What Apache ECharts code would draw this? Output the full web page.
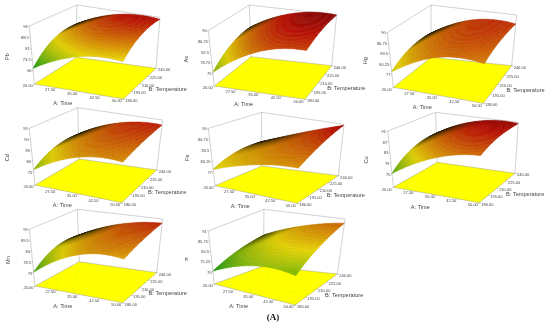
<!DOCTYPE html>
<html><head><meta charset="utf-8">
<style>html,body{margin:0;padding:0;background:#fff}#c{width:550px;height:327px}</style>
<script src="https://cdn.jsdelivr.net/npm/echarts@6/dist/echarts.min.js"></script>
</head><body><div id="c"></div>
<script>
// Axis ticks
const timeTicks=[20,27.5,35,42.5,50];
const tempTicks=[180,195,210,225,240];
const responseNames=['Pb','As','Hg','Cd','Fe','Cu','Mn','\u03c0'];
const zPb=[66,73.5,81,88.5,96];
const zAs=[75,78.75,82.5,86.25,90];
const zHg=[77,80.25,83.5,86.75,90];
const zCd=[75,80,85,90,95];
const zFe=[77,80.25,83.5,86.75,90];
const zCu=[75,79,83,87,91];
const zMn=[73,78.5,84,89.5,95];
const zPi=[70,75.25,80.5,85.75,91];
// Responses: rows = temperature ticks, columns = time ticks
const valPb=[[67.5,74.7,79.2,80.9,79.8],[74.8,80.8,84.6,86.2,85.6],[79.7,85.2,88.8,90.4,90.0],[82.0,88.0,91.8,93.5,93.0],[81.9,89.1,93.6,95.4,94.5]];
const valAs=[[75.3,80.5,84.0,85.7,85.7],[78.1,82.6,85.7,87.2,87.2],[80.1,84.2,87.0,88.4,88.5],[81.3,85.3,88.0,89.4,89.4],[81.6,85.9,88.7,90.1,90.0]];
const valHg=[[77.9,81.6,83.8,84.3,83.4],[79.8,83.0,84.9,85.5,84.8],[80.9,84.0,85.8,86.5,85.8],[81.3,84.5,86.4,87.1,86.6],[80.9,84.5,86.8,87.6,87.0]];
const valCd=[[76.0,81.3,84.6,85.9,85.2],[79.2,83.5,86.3,87.4,87.0],[81.2,85.2,87.8,89.0,88.8],[82.0,86.3,89.2,90.6,90.6],[81.6,86.9,90.4,92.3,92.4]];
const valFe=[[77.9,79.9,81.3,82.1,82.2],[79.5,81.1,82.3,83.3,84.1],[80.5,82.0,83.4,84.7,86.0],[80.9,82.7,84.4,86.1,87.9],[80.8,83.1,85.4,87.6,89.7]];
const valCu=[[75.3,79.8,83.0,84.9,85.4],[78.7,82.6,85.3,86.9,87.3],[80.9,84.6,87.2,88.5,88.8],[82.1,85.9,88.5,89.8,89.8],[82.2,86.6,89.4,90.7,90.5]];
const valMn=[[73.4,80.4,84.7,86.2,85.1],[77.6,82.7,86.0,87.5,87.1],[80.3,84.4,87.3,88.8,89.1],[81.3,85.5,88.5,90.3,91.0],[80.7,85.9,89.6,91.9,92.8]];
const valPi=[[70.4,74.5,76.7,77.0,75.5],[73.4,77.0,79.2,80.0,79.3],[75.8,79.1,81.4,82.7,82.8],[77.5,80.9,83.5,85.2,86.0],[78.6,82.4,85.3,87.5,88.9]];
const Z=[zPb,zAs,zHg,zCd,zFe,zCu,zMn,zPi];
const V=[valPb,valAs,valHg,valCd,valFe,valCu,valMn,valPi];

const layout=[
 {o:[0,0],fl:[[103,252],[370,297],[468,205],[230,172]],tp:[[88,78],[368,105],[480,52],[230,15]],ramp:[0,1.05],cont:[78],name:[22,170]},
 {o:[180,0],fl:[[103,258],[375,298],[455,197],[213,170]],tp:[[85,92],[380,110],[470,45],[208,15]],ramp:[.25,1.12],cont:[],name:[20,178]},
 {o:[360,0],fl:[[100,262],[370,310],[455,197],[213,172]],tp:[[82,98],[375,115],[470,45],[213,15]],ramp:[.38,1.06],cont:[],name:[17,182]},
 {o:[0,105],fl:[[105,240],[365,293],[470,195],[238,162]],tp:[[88,70],[370,98],[488,45],[233,8]],ramp:[.25,1.08],cont:[],name:[22,158]},
 {o:[180,105],fl:[[105,242],[352,295],[475,212],[245,183]],tp:[[85,70],[357,99],[492,58],[245,22]],ramp:[.4,1.08],cont:[],name:[22,158]},
 {o:[360,105],fl:[[100,247],[358,293],[465,205],[232,172]],tp:[[83,78],[362,100],[475,52],[227,22]],ramp:[.15,1.1],cont:[79],name:[20,165]},
 {o:[0,205],fl:[[105,243],[368,293],[470,203],[238,170]],tp:[[88,73],[373,93],[488,42],[232,13]],ramp:[.1,1.05],cont:[77.5,80.5,84],name:[25,165]},
 {o:[180,205],fl:[[103,237],[345,300],[472,207],[250,183]],tp:[[85,78],[350,97],[495,42],[252,13]],ramp:[.03,.88],cont:[74,77,80.5],name:[18,162]}
];
const BASE=.23, N=30;
function bil(c,u,v){const k=[(1-u)*(1-v),u*(1-v),u*v,(1-u)*v];
  return [0,1].map(i=>c[0][i]*k[0]+c[1][i]*k[1]+c[2][i]*k[2]+c[3][i]*k[3]);}
function lag(nodes,vals,x){let s=0;const n=vals.length;for(let i=0;i<n;i++){let p=vals[i];
  for(let j=0;j<n;j++)if(j!==i)p*=(x-nodes[j])/(nodes[i]-nodes[j]);s+=p;}return s;}
function surf(tab,u,v){const ns=tab.map((_,i)=>i/(tab.length-1));
  return lag(ns,tab.map(r=>lag(ns,r,u)),v);}
function mix(s,shade){s=Math.max(0,Math.min(1.15,s));
  const G=[0,155,20],Y=[245,225,0],R=[200,15,0],D=[140,0,0];let a,b,t;
  if(s<.5){a=G;b=Y;t=s/.5}else if(s<1){a=Y;b=R;t=(s-.5)/.5}else{a=R;b=D;t=(s-1)/.15}
  return 'rgb('+[0,1,2].map(i=>Math.round((a[i]+(b[i]-a[i])*t)*shade)).join(',')+')';}
function area(q){let s=0;for(let i=0;i<4;i++){const a=q[i],b=q[(i+1)%4];s+=a[0]*b[1]-a[1]*b[0];}return Math.abs(s)/2;}

function panelItem(pi){return function(params,api){
  const L=layout[pi];
  const P=p=>api.coord([L.o[0]+p[0]/3,L.o[1]+p[1]/3]);
  const C=L.fl.map(p=>[L.o[0]+p[0]/3,L.o[1]+p[1]/3]);
  const T=L.tp.map(p=>[L.o[0]+p[0]/3,L.o[1]+p[1]/3]);
  const co=p=>api.coord(p);
  const zs=Z[pi],z0=zs[0],z1=zs[zs.length-1];
  const base=C.map((p,i)=>[p[0]+(T[i][0]-p[0])*BASE,p[1]+(T[i][1]-p[1])*BASE]);
  const proj=(u,v,f)=>{const b=bil(base,u,v),t=bil(T,u,v);return co([b[0]+(t[0]-b[0])*f,b[1]+(t[1]-b[1])*f]);};
  const kids=[];
  const line=(a,b,st)=>kids.push({type:'line',silent:true,shape:{x1:a[0],y1:a[1],x2:b[0],y2:b[1]},style:st});
  const gray={stroke:'#b4b4b4',lineWidth:.6,fill:null};
  const txt=(s,p,size,align,rot)=>kids.push({type:'text',silent:true,x:p[0],y:p[1],rotation:rot||0,
     style:{text:s,x:0,y:0,fontSize:size,fontFamily:'"Liberation Sans",Arial,sans-serif',fill:'#444',align:align,verticalAlign:'middle'}});
  line(co(T[0]),co(T[3]),gray);line(co(T[3]),co(T[2]),gray);
  line(co(T[0]),co(C[0]),gray);line(co(T[3]),co(C[3]),gray);line(co(T[2]),co(C[2]),gray);
  kids.push({type:'polygon',silent:true,shape:{points:C.map(co)},style:{fill:'#ffff00',stroke:'#888',lineWidth:.4}});
  const tab=V[pi];
  L.cont.forEach(lev=>{
    const M=40;const val=(i,j)=>surf(tab,i/M,j/M)-lev;
    const fp=(u,v)=>co(bil(C,u,v));
    for(let i=0;i<M;i++)for(let j=0;j<M;j++){
      const a=val(i,j),b=val(i+1,j),c=val(i+1,j+1),d=val(i,j+1);const pts=[];
      const ed=(x1,y1,x2,y2,p,q)=>{if((p<0)!==(q<0)){const t=p/(p-q);pts.push(fp((x1+(x2-x1)*t)/M,(y1+(y2-y1)*t)/M));}};
      ed(i,j,i+1,j,a,b);ed(i+1,j,i+1,j+1,b,c);ed(i+1,j+1,i,j+1,c,d);ed(i,j+1,i,j,d,a);
      if(pts.length>=2)line(pts[0],pts[1],{stroke:'rgba(150,235,60,.35)',lineWidth:.4,fill:null});
    }
  });
  for(let j=N-1;j>=0;j--)for(let i=0;i<N;i++){
    const u0=i/N,u1=(i+1)/N,v0=j/N,v1=(j+1)/N;
    const f=[surf(tab,u0,v0),surf(tab,u1,v0),surf(tab,u1,v1),surf(tab,u0,v1)].map(z=>(z-z0)/(z1-z0));
    const avg=(f[0]+f[1]+f[2]+f[3])/4;
    const s=L.ramp[0]+(L.ramp[1]-L.ramp[0])*avg;
    const q=[proj(u0,v0,f[0]),proj(u1,v0,f[1]),proj(u1,v1,f[2]),proj(u0,v1,f[3])];
    const shade=Math.max(.04,Math.min(1,Math.pow(area(q)/2.4,1.3)));
    kids.push({type:'polygon',silent:true,shape:{points:q},
      style:{fill:mix(s,shade),stroke:mix(s,shade*.84),lineWidth:.45}});
  }
  const tk={stroke:'#777',lineWidth:.4,fill:null};
  timeTicks.forEach((t,i)=>{const u=i/4,p=bil(C,u,0);
    line(co(p),co([p[0]-1,p[1]+1.2]),tk);
    txt(t.toFixed(2),co([p[0]-1.5,p[1]+2.2]),4,'right');});
  tempTicks.forEach((t,i)=>{const v=i/4,p=bil(C,1,v);
    const q=[p[0]+1.5,p[1]+.6];line(co(p),co(q),tk);
    txt(t.toFixed(2),co([p[0]+2,p[1]+1.8]),4,'left');});
  zs.forEach((z,i)=>{const f=(z-z0)/(z1-z0);const p=[base[0][0]+(T[0][0]-base[0][0])*f,base[0][1]+(T[0][1]-base[0][1])*f];
    line(co(p),co([p[0]-1.2,p[1]]),tk);
    txt(String(z),co([p[0]-1.6,p[1]+.6]),4,'right');});
  const m1=bil(C,.5,0),m2=bil(C,1,.5);
  txt('A: Time',co([m1[0]-16,m1[1]+12]),5.6,'center');
  txt('B: Temperature',co([m2[0]+28,m2[1]+6]),5.6,'center');
  txt(responseNames[pi],P(L.name),5.6,'center',Math.PI/2);
  return {type:'group',children:kids};
};}
const series=layout.map((_,i)=>({type:'custom',coordinateSystem:'cartesian2d',clip:false,silent:true,
  data:[[0,0]],renderItem:panelItem(i),animation:false}));
series.push({type:'custom',coordinateSystem:'cartesian2d',clip:false,silent:true,data:[[273,317.5]],animation:false,
  renderItem:(p,api)=>{const c=api.coord([api.value(0),api.value(1)]);return {type:'text',silent:true,x:c[0],y:c[1],
   style:{text:'(A)',fontSize:9,fontWeight:'bold',fontFamily:'"Liberation Serif",serif',fill:'#111',align:'center',verticalAlign:'middle'}};}});
const chart=echarts.init(document.getElementById('c'),null,{renderer:'canvas',width:550,height:327});
chart.setOption({animation:false,backgroundColor:'#fff',
  grid:{left:0,right:0,top:0,bottom:0},
  xAxis:{type:'value',min:0,max:550,show:false},
  yAxis:{type:'value',min:0,max:327,inverse:true,show:false},
  tooltip:{show:false},series});
</script></body></html>
